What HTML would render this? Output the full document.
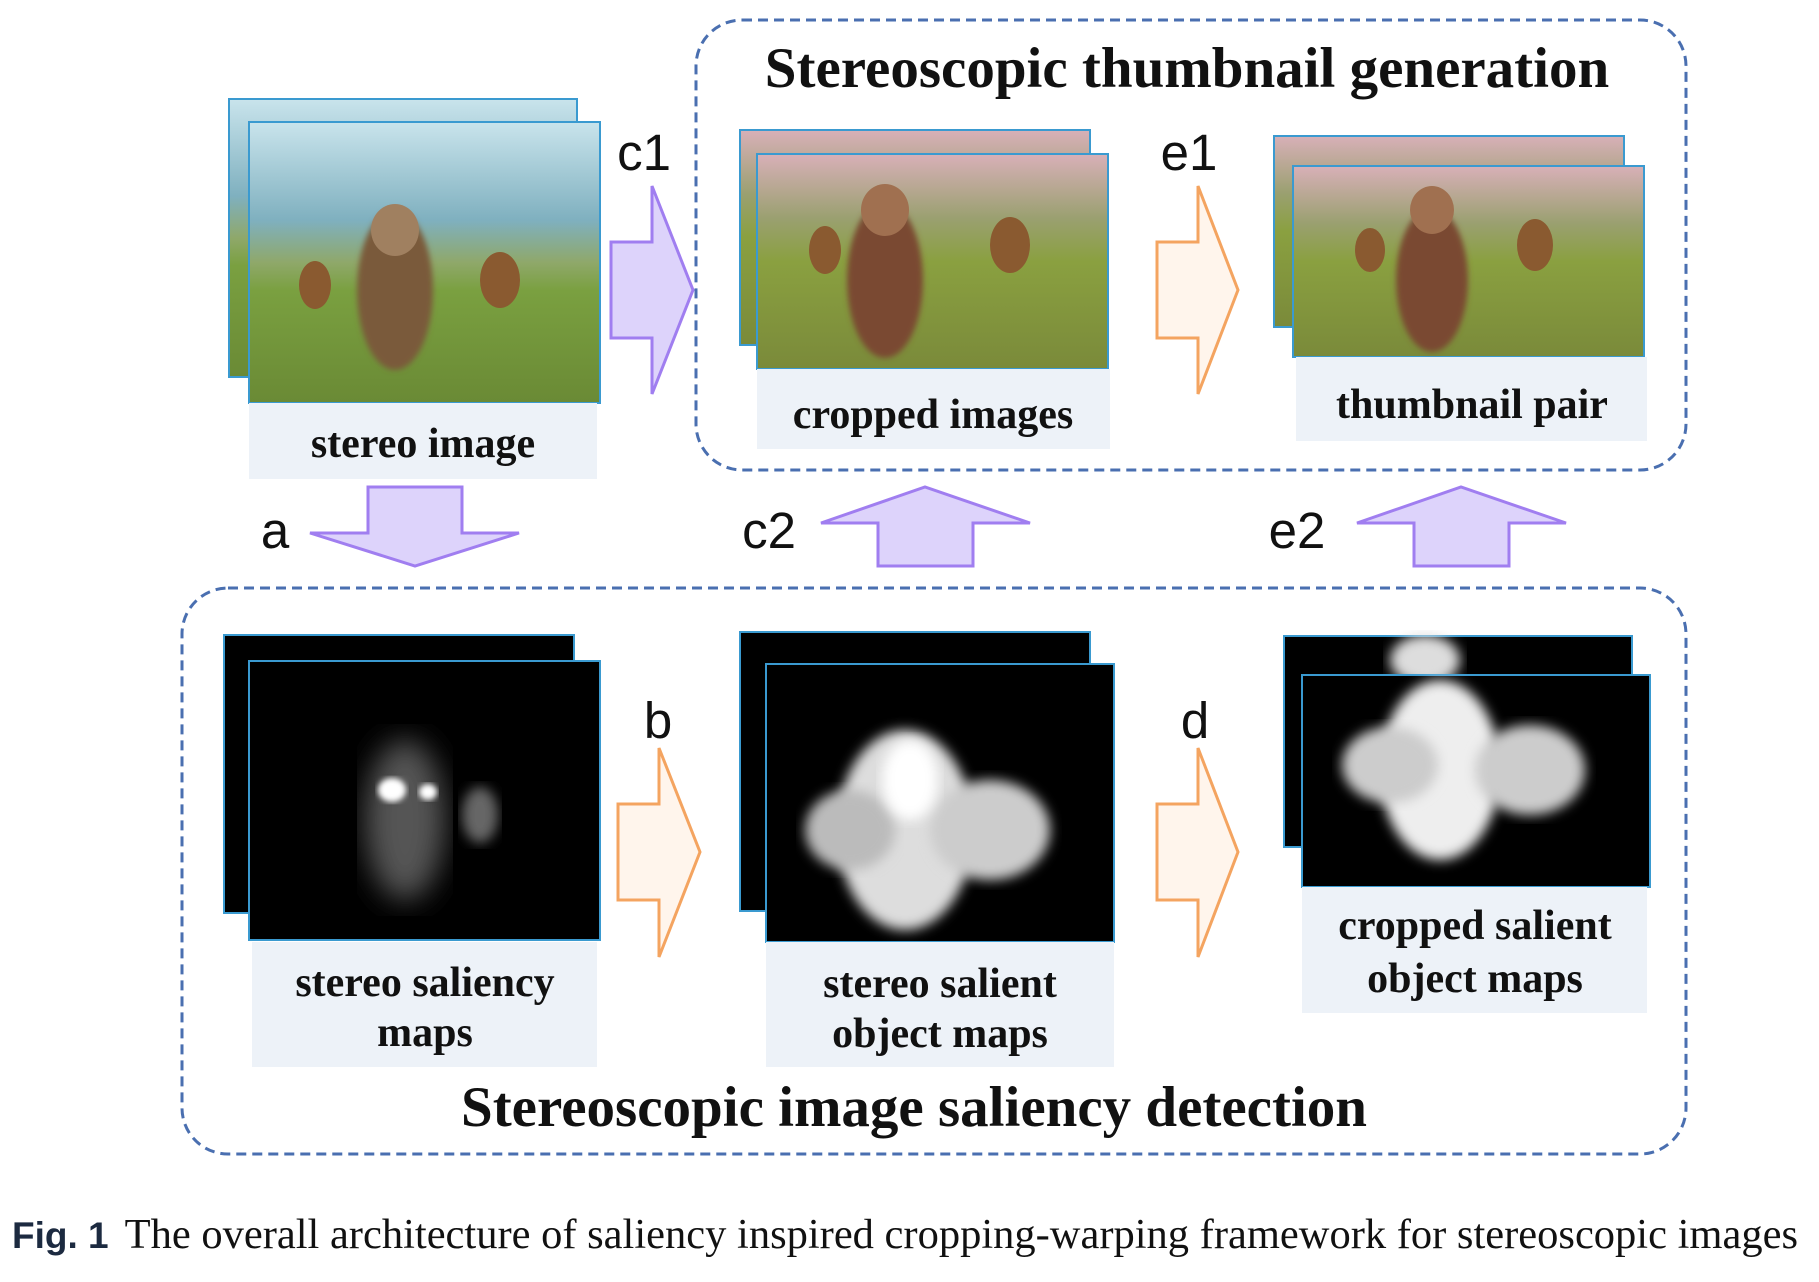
<!DOCTYPE html>
<html><head><meta charset="utf-8"><style>
body{margin:0;background:#fff}
svg{display:block}
.ser{font-family:"Liberation Serif",serif;font-weight:bold;fill:#111}
.san{font-family:"Liberation Sans",sans-serif;fill:#111}
</style></head><body>
<svg width="1819" height="1282" viewBox="0 0 1819 1282">
<defs>
<linearGradient id="photo" x1="0" y1="0" x2="0" y2="1">
<stop offset="0" stop-color="#c9e4ec"/><stop offset="0.35" stop-color="#7fb0bf"/><stop offset="0.5" stop-color="#8fa86a"/><stop offset="0.6" stop-color="#7aa040"/><stop offset="1" stop-color="#6a8a35"/></linearGradient>
<linearGradient id="crop" x1="0" y1="0" x2="0" y2="1">
<stop offset="0" stop-color="#d8b0b8"/><stop offset="0.3" stop-color="#9aa070"/><stop offset="0.5" stop-color="#8aa040"/><stop offset="1" stop-color="#7a8a3a"/></linearGradient>
<filter id="bl"><feGaussianBlur stdDeviation="14"/></filter>
<filter id="bl2"><feGaussianBlur stdDeviation="6"/></filter>
<filter id="bl3"><feGaussianBlur stdDeviation="3"/></filter>
</defs>

<rect x="696" y="20" width="990" height="450" rx="46" fill="none" stroke="#4a6fb0" stroke-width="3" stroke-dasharray="10,6"/>
<rect x="182" y="588" width="1504" height="566" rx="46" fill="none" stroke="#4a6fb0" stroke-width="3" stroke-dasharray="10,6"/>
<text x="1187" y="87" text-anchor="middle" class="ser" font-size="57">Stereoscopic thumbnail generation</text>
<text x="914" y="1126" text-anchor="middle" class="ser" font-size="57">Stereoscopic image saliency detection</text>

<g>
<rect x="229" y="99" width="348" height="278" fill="url(#photo)" stroke="#3a9ad0" stroke-width="2"/>
<rect x="249" y="122" width="351" height="281" fill="url(#photo)" stroke="#3a9ad0" stroke-width="2"/>
<ellipse cx="395" cy="290" rx="38" ry="80" fill="#7a5a3a" filter="url(#bl3)"/>
<ellipse cx="395" cy="230" rx="24" ry="26" fill="#a08060"/>
<ellipse cx="315" cy="285" rx="16" ry="24" fill="#8a5a30"/>
<ellipse cx="500" cy="280" rx="20" ry="28" fill="#8a5a30"/>
</g>
<rect x="249" y="403" width="348" height="76" fill="#edf2f8"/>
<text x="423" y="457" text-anchor="middle" class="ser" font-size="42">stereo image</text>

<g>
<rect x="740" y="130" width="350" height="215" fill="url(#crop)" stroke="#3a9ad0" stroke-width="2"/>
<rect x="757" y="154" width="351" height="215" fill="url(#crop)" stroke="#3a9ad0" stroke-width="2"/>
<ellipse cx="885" cy="280" rx="38" ry="78" fill="#7a4a30" filter="url(#bl3)"/>
<ellipse cx="885" cy="210" rx="24" ry="26" fill="#a07050"/>
<ellipse cx="825" cy="250" rx="16" ry="24" fill="#8a5a30"/>
<ellipse cx="1010" cy="245" rx="20" ry="28" fill="#8a5a30"/>
</g>
<rect x="757" y="369" width="353" height="80" fill="#edf2f8"/>
<text x="933" y="428" text-anchor="middle" class="ser" font-size="42">cropped images</text>

<g>
<rect x="1274" y="136" width="350" height="191" fill="url(#crop)" stroke="#3a9ad0" stroke-width="2"/>
<rect x="1293" y="166" width="351" height="191" fill="url(#crop)" stroke="#3a9ad0" stroke-width="2"/>
<ellipse cx="1432" cy="280" rx="36" ry="72" fill="#7a4a30" filter="url(#bl3)"/>
<ellipse cx="1432" cy="210" rx="22" ry="24" fill="#a07050"/>
<ellipse cx="1370" cy="250" rx="15" ry="22" fill="#8a5a30"/>
<ellipse cx="1535" cy="245" rx="18" ry="26" fill="#8a5a30"/>
</g>
<rect x="1296" y="357" width="351" height="84" fill="#edf2f8"/>
<text x="1472" y="418" text-anchor="middle" class="ser" font-size="42">thumbnail pair</text>

<g>
<rect x="224" y="635" width="350" height="278" fill="#000" stroke="#3a9ad0" stroke-width="2"/>
<rect x="249" y="661" width="351" height="279" fill="#000" stroke="#3a9ad0" stroke-width="2"/>
<ellipse cx="405" cy="820" rx="40" ry="80" fill="#555" filter="url(#bl)"/>
<ellipse cx="480" cy="815" rx="18" ry="28" fill="#666" filter="url(#bl2)"/>
<ellipse cx="392" cy="790" rx="14" ry="12" fill="#fff" filter="url(#bl3)"/>
<ellipse cx="428" cy="792" rx="9" ry="8" fill="#fff" filter="url(#bl3)"/>
</g>
<rect x="252" y="942" width="345" height="125" fill="#edf2f8"/>
<text x="425" y="996" text-anchor="middle" class="ser" font-size="42">stereo saliency</text>
<text x="425" y="1046" text-anchor="middle" class="ser" font-size="42">maps</text>

<g>
<rect x="740" y="632" width="350" height="279" fill="#000" stroke="#3a9ad0" stroke-width="2"/>
<rect x="766" y="664" width="348" height="278" fill="#000" stroke="#3a9ad0" stroke-width="2"/>
<ellipse cx="905" cy="830" rx="68" ry="100" fill="#ddd" filter="url(#bl2)"/>
<ellipse cx="850" cy="830" rx="45" ry="40" fill="#bbb" filter="url(#bl2)"/>
<ellipse cx="990" cy="830" rx="60" ry="50" fill="#ccc" filter="url(#bl2)"/>
<ellipse cx="910" cy="780" rx="28" ry="40" fill="#fff" filter="url(#bl2)"/>
</g>
<rect x="766" y="942" width="348" height="125" fill="#edf2f8"/>
<text x="940" y="997" text-anchor="middle" class="ser" font-size="42">stereo salient</text>
<text x="940" y="1047" text-anchor="middle" class="ser" font-size="42">object maps</text>

<g>
<rect x="1284" y="636" width="348" height="211" fill="#000" stroke="#3a9ad0" stroke-width="2"/>
<ellipse cx="1425" cy="660" rx="35" ry="25" fill="#ddd" filter="url(#bl2)"/>
<rect x="1302" y="675" width="348" height="212" fill="#000" stroke="#3a9ad0" stroke-width="2"/>
<ellipse cx="1440" cy="770" rx="60" ry="90" fill="#eee" filter="url(#bl2)"/>
<ellipse cx="1390" cy="765" rx="48" ry="38" fill="#ccc" filter="url(#bl2)"/>
<ellipse cx="1530" cy="770" rx="55" ry="45" fill="#ccc" filter="url(#bl2)"/>
</g>
<rect x="1302" y="887" width="345" height="126" fill="#edf2f8"/>
<text x="1475" y="939" text-anchor="middle" class="ser" font-size="42">cropped salient</text>
<text x="1475" y="992" text-anchor="middle" class="ser" font-size="42">object  maps</text>

<polygon points="611,242 652,242 652,186 693,290 652,394 652,338 611,338" fill="#ddd3fb" stroke="#a07ef0" stroke-width="3"/>
<polygon points="1157,242 1198,242 1198,186 1238,290 1198,394 1198,338 1157,338" fill="#fff5ec" stroke="#f4a460" stroke-width="3"/>
<polygon points="618,804 659,804 659,748 700,852 659,957 659,900 618,900" fill="#fff5ec" stroke="#f4a460" stroke-width="3"/>
<polygon points="1157,804 1198,804 1198,748 1238,852 1198,957 1198,900 1157,900" fill="#fff5ec" stroke="#f4a460" stroke-width="3"/>
<polygon points="368,487 462,487 462,533 519,533 415,566 310,533 368,533" fill="#ddd3fb" stroke="#a07ef0" stroke-width="3"/>
<polygon points="878,566 973,566 973,523 1030,523 925,487 821,523 878,523" fill="#ddd3fb" stroke="#a07ef0" stroke-width="3"/>
<polygon points="1414,566 1509,566 1509,523 1566,523 1461,487 1357,523 1414,523" fill="#ddd3fb" stroke="#a07ef0" stroke-width="3"/>

<g class="san" font-size="51">
<text x="644" y="170" text-anchor="middle">c1</text>
<text x="1189" y="170" text-anchor="middle">e1</text>
<text x="275" y="548" text-anchor="middle">a</text>
<text x="769" y="548" text-anchor="middle">c2</text>
<text x="1297" y="548" text-anchor="middle">e2</text>
<text x="658" y="738" text-anchor="middle">b</text>
<text x="1195" y="738" text-anchor="middle">d</text>
</g>

<text x="12" y="1248"><tspan font-family="Liberation Sans, sans-serif" font-weight="bold" font-size="37" fill="#1c2a40">Fig. 1</tspan><tspan font-family="Liberation Serif, serif" font-size="42.5" fill="#111" dx="16">The overall architecture of saliency inspired cropping-warping framework for stereoscopic images</tspan></text>
</svg>
</body></html>
